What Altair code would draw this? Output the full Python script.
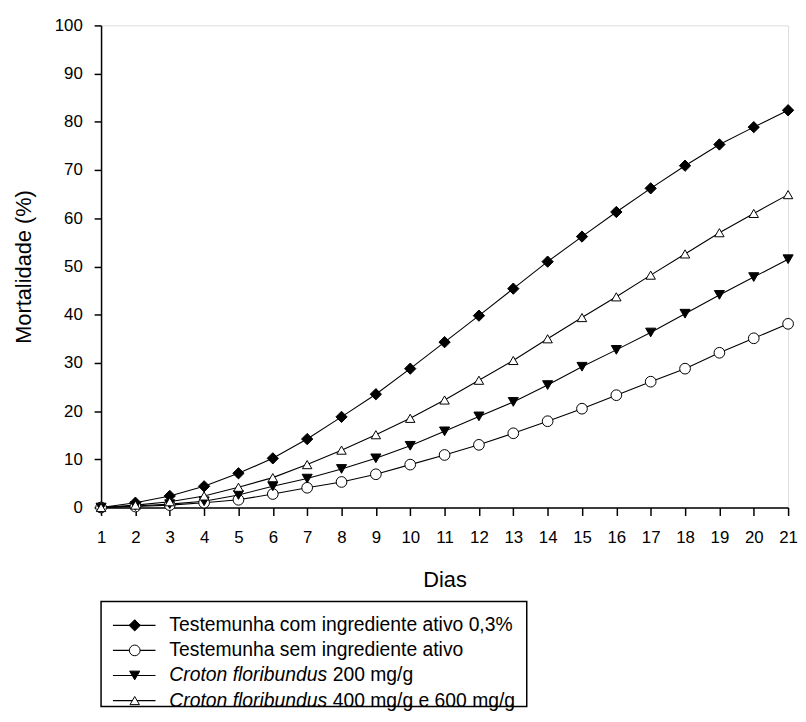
import altair as alt
import pandas as pd

# ---------------- data ----------------
days = list(range(1, 22))

series_names = [
    "Testemunha com ingrediente ativo 0,3%",
    "Testemunha sem ingrediente ativo",
    "Croton floribundus 200 mg/g",
    "Croton floribundus 400 mg/g e 600 mg/g",
]

com_ativo = [0, 1.0, 2.4, 4.4, 7.1, 10.2, 14.2, 18.8, 23.5, 28.8, 34.3,
             39.8, 45.4, 51.0, 56.2, 61.3, 66.2, 70.9, 75.3, 78.9, 82.4]
sem_ativo = [0, 0.2, 0.5, 1.0, 1.6, 2.8, 4.1, 5.3, 6.9, 8.9, 10.9,
             13.0, 15.4, 17.9, 20.5, 23.3, 26.1, 28.8, 32.1, 35.1, 38.1]
croton_200 = [0, 0.3, 0.7, 1.3, 2.6, 4.4, 6.0, 8.0, 10.2, 12.8, 15.8,
              18.9, 21.9, 25.4, 29.2, 32.7, 36.3, 40.2, 44.1, 47.8, 51.5]
croton_400_600 = [0, 0.5, 1.2, 2.4, 4.2, 6.2, 8.9, 11.9, 15.1, 18.5, 22.3,
                  26.4, 30.5, 35.0, 39.4, 43.7, 48.2, 52.6, 57.0, 61.0, 64.9]

legend_italic = ["", "", "Croton floribundus", "Croton floribundus"]
legend_rest = ["Testemunha com ingrediente ativo 0,3%",
               "Testemunha sem ingrediente ativo",
               "200 mg/g",
               "400 mg/g e 600 mg/g"]

y_ticks = list(range(0, 101, 10))

# ---------------- styles ----------------
shapes = ["diamond", "circle", "triangle-down", "triangle-up"]
fills = ["black", "white", "black", "white"]
sizes = [130, 90, 120, 120]
FONT = "Liberation Sans"

rows = []
for name, vals in zip(series_names, [com_ativo, sem_ativo, croton_200, croton_400_600]):
    for d, v in zip(days, vals):
        rows.append({"Dias": d, "Mortalidade": v, "Serie": name})
df = pd.DataFrame(rows)

shape_scale = alt.Scale(domain=series_names, range=shapes)
fill_scale = alt.Scale(domain=series_names, range=fills)
size_scale = alt.Scale(domain=series_names, range=sizes)

base = alt.Chart(df).encode(
    x=alt.X("Dias:Q",
            scale=alt.Scale(domain=[1, 21], nice=False, zero=False),
            axis=alt.Axis(title="Dias", values=days, grid=False,
                          tickSize=8, labelPadding=14, titlePadding=25,
                          labelFontSize=17, titleFontSize=22,
                          labelFont=FONT, titleFont=FONT,
                          titleFontWeight="normal",
                          domainColor="black", tickColor="black",
                          domainWidth=1.5, tickWidth=1.5,
                          labelColor="black", titleColor="black",
                          labelFlush=False, labelOverlap=False)),
    y=alt.Y("Mortalidade:Q",
            scale=alt.Scale(domain=[0, 100], nice=False),
            axis=alt.Axis(title="Mortalidade (%)", values=y_ticks, grid=False,
                          tickSize=7, labelPadding=12, titlePadding=19,
                          labelFontSize=17, titleFontSize=22,
                          labelFont=FONT, titleFont=FONT,
                          titleFontWeight="normal",
                          domainColor="black", tickColor="black",
                          domainWidth=1.5, tickWidth=1.5,
                          labelColor="black", titleColor="black",
                          labelFlush=False, labelOverlap=False)),
)

lines = base.mark_line(color="black", strokeWidth=1.1).encode(
    detail="Serie:N")
points = base.mark_point(filled=True, stroke="black", strokeWidth=1, opacity=1).encode(
    shape=alt.Shape("Serie:N", scale=shape_scale, legend=None),
    fill=alt.Fill("Serie:N", scale=fill_scale, legend=None),
    size=alt.Size("Serie:N", scale=size_scale, legend=None),
)

main = alt.layer(lines, points).properties(width=694, height=487)

# ---------------- custom legend (box) ----------------
leg_df = pd.DataFrame({"Serie": series_names,
                       "italic": legend_italic,
                       "rest": legend_rest})

ly = alt.Y("Serie:N", sort=series_names,
           scale=alt.Scale(type="point", domain=series_names, range=[24, 100], padding=0),
           axis=None)

leg_base = alt.Chart(leg_df).encode(y=ly)

leg_rule = leg_base.mark_rule(color="black", strokeWidth=1.2).encode(
    x=alt.value(12), x2=alt.value(55))
leg_pts = leg_base.mark_point(filled=True, stroke="black", strokeWidth=1, opacity=1).encode(
    x=alt.value(34),
    shape=alt.Shape("Serie:N", scale=shape_scale, legend=None),
    fill=alt.Fill("Serie:N", scale=fill_scale, legend=None),
    size=alt.Size("Serie:N", scale=alt.Scale(domain=series_names, range=[110, 80, 100, 90]),
                  legend=None),
)
leg_txt_plain = leg_base.transform_filter("datum.italic == ''").mark_text(
    align="left", baseline="middle", font=FONT, fontSize=19.5, color="black").encode(
    x=alt.value(69), text="rest:N")
leg_txt_ital = leg_base.transform_filter("datum.italic != ''").mark_text(
    align="left", baseline="middle", font=FONT, fontSize=19.5, fontStyle="italic",
    color="black").encode(x=alt.value(69), text="italic:N")
leg_txt_rest = leg_base.transform_filter("datum.italic != ''").mark_text(
    align="left", baseline="middle", font=FONT, fontSize=19.5, color="black").encode(
    x=alt.value(234), text="rest:N")

legend = alt.layer(leg_rule, leg_pts, leg_txt_plain, leg_txt_ital, leg_txt_rest).properties(
    width=430, height=106,
    view=alt.ViewBackground(stroke="black", strokeWidth=1.5, fill="white"))

chart = alt.vconcat(main, legend, spacing=9).properties(
    padding={"left": 4, "top": 4, "right": 0, "bottom": 0}
).configure_view(stroke=None).configure(background="white")

chart.save("out.html", embed_options={"renderer": "svg", "actions": False})
